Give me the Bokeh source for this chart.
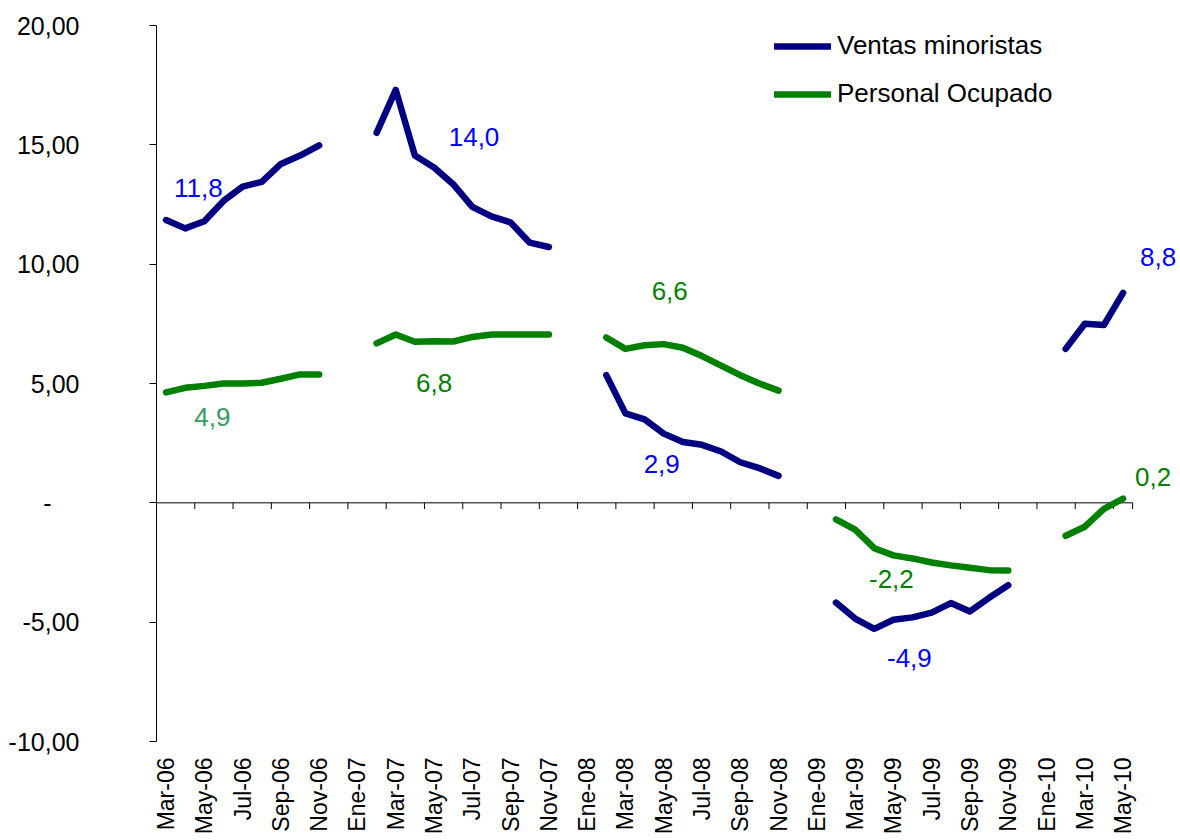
import math
from bokeh.plotting import figure
from bokeh.models import Range1d, FixedTicker, Legend, LegendItem, ColumnDataSource
from bokeh.core.properties import value
from bokeh.embed import file_html
from bokeh.resources import INLINE

nan = float("nan")

# Month index 0 = Mar-06 ... 50 = May-10 (Dec/Jan missing each year)
tick_idx = list(range(0, 51, 2))
tick_labels = ["Mar-06", "May-06", "Jul-06", "Sep-06", "Nov-06", "Ene-07", "Mar-07",
               "May-07", "Jul-07", "Sep-07", "Nov-07", "Ene-08", "Mar-08", "May-08",
               "Jul-08", "Sep-08", "Nov-08", "Ene-09", "Mar-09", "May-09", "Jul-09",
               "Sep-09", "Nov-09", "Ene-10", "Mar-10", "May-10"]

ventas = [11.85, 11.5, 11.8, 12.65, 13.25, 13.45, 14.2, 14.55, 14.98,
          nan, nan,
          15.5, 17.3, 14.55, 14.05, 13.35, 12.4, 12.0, 11.75, 10.9, 10.72,
          nan, nan,
          5.35, 3.75, 3.5, 2.9, 2.55, 2.43, 2.15, 1.7, 1.45, 1.13,
          nan, nan,
          -4.18, -4.85, -5.28, -4.9, -4.8, -4.6, -4.2, -4.55, -3.98, -3.45,
          nan, nan,
          6.45, 7.5, 7.45, 8.8]

personal = [4.63, 4.82, 4.9, 5.0, 5.0, 5.03, 5.2, 5.38, 5.38,
            nan, nan,
            6.68, 7.05, 6.75, 6.77, 6.76, 6.95, 7.05, 7.05, 7.05, 7.05,
            nan, nan,
            6.93, 6.45, 6.6, 6.65, 6.5, 6.15, 5.75, 5.35, 5.0, 4.7,
            nan, nan,
            -0.69, -1.12, -1.9, -2.2, -2.33, -2.5, -2.62, -2.72, -2.82, -2.83,
            nan, nan,
            -1.38, -1.0, -0.25, 0.18]

x_idx = list(range(len(ventas)))

# Data labels (May of each year)
label_idx = [2, 14, 26, 38, 50]
ventas_labels = ["11,8", "14,0", "2,9", "-4,9", "8,8"]
personal_labels = ["4,9", "6,8", "6,6", "-2,2", "0,2"]

y_ticks = [-10, -5, 0, 5, 10, 15, 20]
y_tick_labels = ["-10,00", "-5,00", "-\u2007\u2007", "5,00", "10,00", "15,00", "20,00"]

FONT = "Liberation Sans"
NAVY = "#000080"
GREEN = "#008000"

X_START, X_END = -0.5, 50.5          # category axis extent
PX_PER_MONTH = 19.14
W, LEFT = 1180, 156
x_view_end = X_START + (W - LEFT) / PX_PER_MONTH   # frame widened so right-side labels are not clipped

p = figure(width=W, height=840, x_range=Range1d(X_START, x_view_end), y_range=Range1d(-10, 20),
           output_backend="svg", toolbar_location=None,
           min_border_left=LEFT, min_border_right=0, min_border_top=25, min_border_bottom=99)
p.outline_line_color = None
p.xgrid.grid_line_color = None
p.ygrid.grid_line_color = None
p.background_fill_color = "white"
p.border_fill_color = "white"

# zero (category) axis line with tick marks between categories
p.segment(x0=[X_START], y0=[0], x1=[X_END], y1=[0], line_color="#000000", line_width=1)
zt = [i - 0.5 for i in tick_idx] + [X_END]
p.segment(x0=zt, y0=[0] * len(zt), x1=zt, y1=[-0.26] * len(zt), line_color="#000000", line_width=1)

r1 = p.line(x_idx, ventas, line_color=NAVY, line_width=6.5, line_cap="round", line_join="round")
r2 = p.line(x_idx, personal, line_color=GREEN, line_width=6.5, line_cap="round", line_join="round")

# data labels
lab_src = ColumnDataSource(dict(
    x=label_idx + label_idx,
    y=[ventas[i] for i in label_idx] + [personal[i] for i in label_idx],
    text=ventas_labels + personal_labels,
    xo=[-6, 40, -2, 16, 35, 8, 0, 6, -2, 30],
    yo=[-33, -31, 30, 38, -36, 31, 42, -53, 24, -22],
    color=["#0000FF"] * 5 + ["#339966", GREEN, GREEN, GREEN, GREEN],
))
p.text(x="x", y="y", text="text", x_offset="xo", y_offset="yo", text_color="color",
       source=lab_src, text_font=value(FONT), text_font_size=value("26px"),
       text_align="center", text_baseline="middle")

# y axis
p.yaxis.ticker = FixedTicker(ticks=y_ticks)
p.yaxis.major_label_overrides = {t: l for t, l in zip(y_ticks, y_tick_labels)}
p.yaxis.minor_tick_line_color = None
p.yaxis.major_tick_in = 0
p.yaxis.major_tick_out = 7
p.yaxis.axis_line_color = "#000000"
p.yaxis.major_tick_line_color = "#000000"
p.yaxis.major_label_text_font = FONT
p.yaxis.major_label_text_font_size = "25px"
p.yaxis.major_label_text_color = "#000000"
p.yaxis.major_label_standoff = 70

# x axis (labels only)
p.xaxis.ticker = FixedTicker(ticks=tick_idx)
p.xaxis.major_label_overrides = {t: l for t, l in zip(tick_idx, tick_labels)}
p.xaxis.major_label_orientation = math.pi / 2
p.xaxis.axis_line_color = None
p.xaxis.major_tick_line_color = None
p.xaxis.minor_tick_line_color = None
p.xaxis.major_tick_in = 0
p.xaxis.major_tick_out = 0
p.xaxis.major_label_text_font = FONT
p.xaxis.major_label_text_font_size = "23px"
p.xaxis.major_label_text_color = "#000000"
p.xaxis.major_label_standoff = 16

legend = Legend(items=[LegendItem(label="Ventas minoristas", renderers=[r1]),
                       LegendItem(label="Personal Ocupado", renderers=[r2])],
                location=(618, 632), orientation="vertical")
legend.label_text_font = FONT
legend.label_text_font_size = "26px"
legend.label_text_color = "#000000"
legend.glyph_width = 57
legend.glyph_height = 20
legend.label_standoff = 6
legend.spacing = 17
legend.padding = 0
legend.margin = 0
legend.border_line_alpha = 0
legend.background_fill_alpha = 0
p.add_layout(legend)

open("out.html", "w").write(file_html(p, INLINE))
